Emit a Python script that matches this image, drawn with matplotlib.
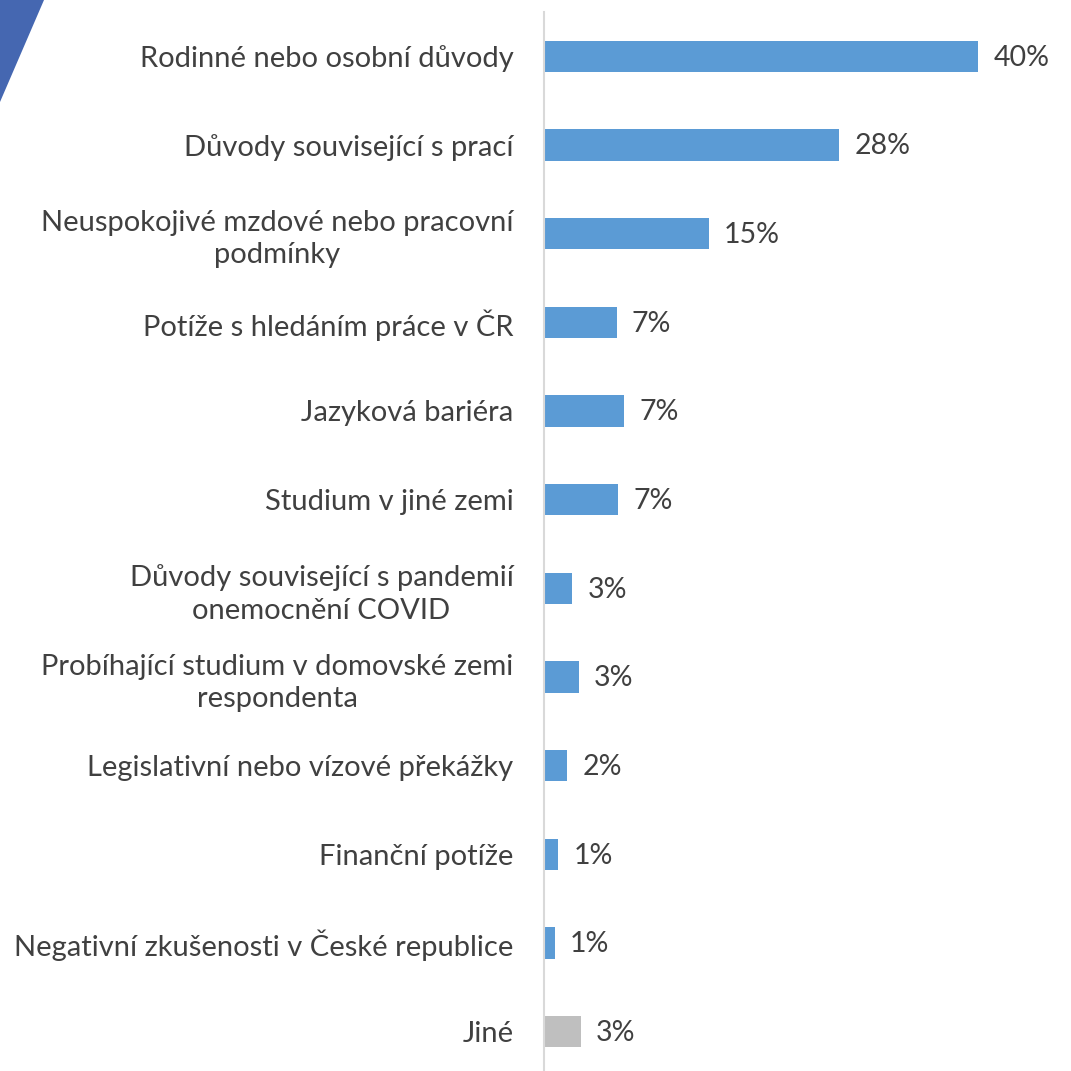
import numpy as np
import matplotlib.pyplot as plt
from matplotlib.patches import Polygon

categories = [
    "Rodinné nebo osobní důvody",
    "Důvody související s prací",
    "Neuspokojivé mzdové nebo pracovní\npodmínky",
    "Potíže s hledáním práce v ČR",
    "Jazyková bariéra",
    "Studium v jiné zemi",
    "Důvody související s pandemií\nonemocnění COVID",
    "Probíhající studium v domovské zemi\nrespondenta",
    "Legislativní nebo vízové překážky",
    "Finanční potíže",
    "Negativní zkušenosti v České republice",
    "Jiné",
]
values = [40.0, 27.2, 15.2, 6.7, 7.4, 6.8, 2.6, 3.2, 2.15, 1.3, 1.0, 3.4]
value_labels = ["40%", "28%", "15%", "7%", "7%", "7%", "3%", "3%", "2%", "1%", "1%", "3%"]

blue = "#5B9BD5"
grey = "#BFBFBF"
text_col = "#404040"
colors = [blue] * (len(values) - 1) + [grey]

plt.rcParams['font.family'] = ['Lato', 'DejaVu Sans']

W = 1071
fig = plt.figure(figsize=(W / 100, W / 100), dpi=100)

# decorative corner shape
corner = Polygon([[0, 1], [44 / W, 1], [0, 1 - 102 / W]], closed=True,
                 transform=fig.transFigure, facecolor="#4567B1", edgecolor="none")
fig.patches.append(corner)

left, right = 544 / W, 1.0
top, bottom = 1 - 12 / W, 1 - 1076 / W
ax = fig.add_axes([left, bottom, right - left, top - bottom])

y = np.arange(len(values))
ax.barh(y, values, height=0.35, color=colors)
ax.set_ylim(len(values) - 0.5, -0.5)
ax.set_xlim(0, 527 / 10.85)

for yi, v, lab in zip(y, values, value_labels):
    ax.annotate(lab, (v, yi), xytext=(11, -1), textcoords="offset points",
                ha="left", va="center", fontsize=20.5, color=text_col)

ax.set_yticks(y)
ax.set_yticklabels(categories, fontsize=21, color=text_col, ha="right",
                   multialignment="center", linespacing=1.3)
ax.tick_params(axis="y", length=0, pad=22)
ax.set_xticks([])
for s in ["top", "right", "bottom"]:
    ax.spines[s].set_visible(False)
ax.spines["left"].set_color("#D9D9D9")
ax.spines["left"].set_linewidth(1.5)

fig.savefig("out.png", dpi=100)
